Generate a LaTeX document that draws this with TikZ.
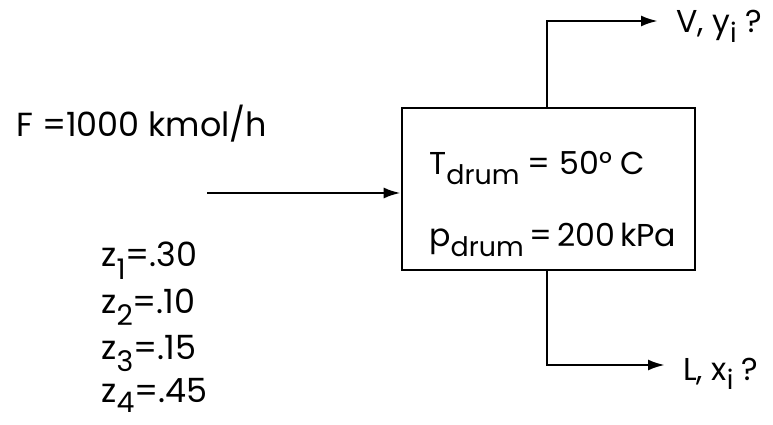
\documentclass[tikz,border=0pt]{standalone}
\usepackage{fontspec}
\setmainfont{Poppins}
\usepackage{graphicx}
\usetikzlibrary{arrows.meta, positioning}

% lowered, smaller subscript
\newcommand{\lsub}[2][0.55ex]{\raisebox{-#1}{\scalebox{0.85}{#2}}}

\begin{document}
\begin{tikzpicture}[x=0.02cm, y=-0.02cm, line width=1.5pt,
    flow/.style={-{Latex[length=3.4mm,width=2.2mm]}},
    big/.style={font=\fontsize{18}{21}\selectfont, inner sep=0pt, anchor=base west},
    small/.style={font=\fontsize{19}{22}\selectfont, inner sep=0pt, anchor=base west}]
    \useasboundingbox (0,0) rectangle (773,425);

    % Flash drum
    \node[draw, inner sep=0pt, minimum width=5.86cm, minimum height=3.24cm] (drum) at (548.5,189) {};
    \node[big] (temp) at (428,175) {T\lsub{drum} = 50° C};
    \node[big] (pres) at (428,247) {p\lsub{drum}\,=\,200\,kPa};

    % Feed
    \node[small] (feed) at (15,137) {F =1000 kmol/h};
    \coordinate (feedin) at (207,193);
    \draw[flow] (feedin) -- (feedin -| drum.west);
    \node[small] (z1) at (100,267) {z\lsub[0.7ex]{1}=.30};
    \node[small] (z2) at (100,313) {z\lsub[0.7ex]{2}=.10};
    \node[small] (z3) at (100,359) {z\lsub[0.7ex]{3}=.15};
    \node[small] (z4) at (100,402) {z\lsub[0.6ex]{4}=.45};

    % Vapour product
    \coordinate (vup) at (547,21);
    \coordinate (vend) at (658,21);
    \draw[flow] (drum.north -| vup) -- (vup) -- (vend);
    \node[big] (vap) at (675,33) {V, y\lsub{i} ?};

    % Liquid product
    \coordinate (ldown) at (547,365);
    \coordinate (lend) at (665,365);
    \draw[flow] (drum.south -| ldown) -- (ldown) -- (lend);
    \node[big] (liq) at (682,380) {L, x\lsub{i} ?};
\end{tikzpicture}
\end{document}
